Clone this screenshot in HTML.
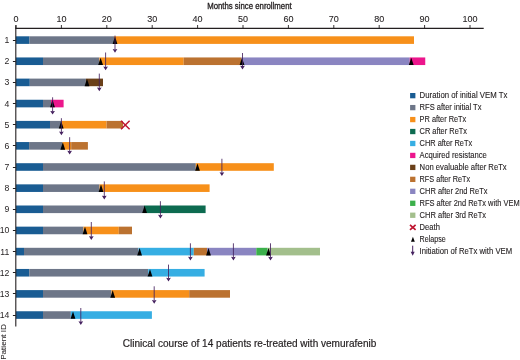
<!DOCTYPE html><html><head><meta charset="utf-8"><style>
html,body{margin:0;padding:0;background:#fff;width:520px;height:360px;overflow:hidden}
svg{display:block;will-change:transform}
text{font-family:"Liberation Sans",sans-serif;fill:#231f20;stroke:#231f20;stroke-width:0.1px}
</style></head><body>
<svg width="520" height="360" viewBox="0 0 520 360">
<text x="249.4" y="8.9" style="stroke-width:0.35px" font-size="9.6" text-anchor="middle" textLength="84.5" lengthAdjust="spacingAndGlyphs">Months since enrollment</text>
<line x1="15.3" y1="28.4" x2="483.7" y2="28.4" stroke="#231f20" stroke-width="1.1"/>
<line x1="16.00" y1="25" x2="16.00" y2="28.5" stroke="#231f20" stroke-width="0.9"/>
<text x="16.00" y="21.8" font-size="9" text-anchor="middle">0</text>
<line x1="61.40" y1="25" x2="61.40" y2="28.5" stroke="#231f20" stroke-width="0.9"/>
<text x="61.40" y="21.8" font-size="9" text-anchor="middle">10</text>
<line x1="106.80" y1="25" x2="106.80" y2="28.5" stroke="#231f20" stroke-width="0.9"/>
<text x="106.80" y="21.8" font-size="9" text-anchor="middle">20</text>
<line x1="152.20" y1="25" x2="152.20" y2="28.5" stroke="#231f20" stroke-width="0.9"/>
<text x="152.20" y="21.8" font-size="9" text-anchor="middle">30</text>
<line x1="197.60" y1="25" x2="197.60" y2="28.5" stroke="#231f20" stroke-width="0.9"/>
<text x="197.60" y="21.8" font-size="9" text-anchor="middle">40</text>
<line x1="243.00" y1="25" x2="243.00" y2="28.5" stroke="#231f20" stroke-width="0.9"/>
<text x="243.00" y="21.8" font-size="9" text-anchor="middle">50</text>
<line x1="288.40" y1="25" x2="288.40" y2="28.5" stroke="#231f20" stroke-width="0.9"/>
<text x="288.40" y="21.8" font-size="9" text-anchor="middle">60</text>
<line x1="333.80" y1="25" x2="333.80" y2="28.5" stroke="#231f20" stroke-width="0.9"/>
<text x="333.80" y="21.8" font-size="9" text-anchor="middle">70</text>
<line x1="379.20" y1="25" x2="379.20" y2="28.5" stroke="#231f20" stroke-width="0.9"/>
<text x="379.20" y="21.8" font-size="9" text-anchor="middle">80</text>
<line x1="424.60" y1="25" x2="424.60" y2="28.5" stroke="#231f20" stroke-width="0.9"/>
<text x="424.60" y="21.8" font-size="9" text-anchor="middle">90</text>
<line x1="470.00" y1="25" x2="470.00" y2="28.5" stroke="#231f20" stroke-width="0.9"/>
<text x="470.00" y="21.8" font-size="9" text-anchor="middle">100</text>
<line x1="12.9" y1="40.50" x2="15.8" y2="40.50" stroke="#231f20" stroke-width="1"/>
<text x="9.3" y="43.10" style="stroke-width:0" font-size="8.7" text-anchor="end">1</text>
<rect x="15.90" y="36.30" width="13.60" height="7.6" fill="#195c93"/>
<rect x="29.50" y="36.30" width="84.50" height="7.6" fill="#6d7688"/>
<rect x="114.00" y="36.30" width="300.00" height="7.6" fill="#f7901a"/>
<polygon points="112.60,43.90 117.40,43.90 115.00,36.50" fill="#000"/>
<line x1="115.00" y1="35.60" x2="115.00" y2="49.70" stroke="#45215f" stroke-width="0.85"/>
<polygon points="112.65,49.00 115.00,49.40 117.35,49.00 115.00,52.70" fill="#45215f"/>
<line x1="12.9" y1="61.50" x2="15.8" y2="61.50" stroke="#231f20" stroke-width="1"/>
<text x="9.3" y="64.25" style="stroke-width:0" font-size="8.7" text-anchor="end">2</text>
<rect x="15.90" y="57.45" width="27.10" height="7.6" fill="#195c93"/>
<rect x="43.00" y="57.45" width="56.40" height="7.6" fill="#6d7688"/>
<rect x="99.40" y="57.45" width="84.30" height="7.6" fill="#f7901a"/>
<rect x="183.70" y="57.45" width="57.80" height="7.6" fill="#bb7230"/>
<rect x="241.50" y="57.45" width="168.25" height="7.6" fill="#8a85c1"/>
<rect x="409.75" y="57.45" width="15.50" height="7.6" fill="#ec168c"/>
<polygon points="98.20,65.05 103.00,65.05 100.60,57.65" fill="#000"/>
<polygon points="239.60,65.05 244.40,65.05 242.00,57.65" fill="#000"/>
<polygon points="408.85,65.05 413.65,65.05 411.25,57.65" fill="#000"/>
<line x1="105.60" y1="52.50" x2="105.60" y2="67.25" stroke="#45215f" stroke-width="0.85"/>
<polygon points="103.25,66.55 105.60,66.95 107.95,66.55 105.60,70.25" fill="#45215f"/>
<line x1="242.50" y1="53.00" x2="242.50" y2="66.40" stroke="#45215f" stroke-width="0.85"/>
<polygon points="240.15,65.70 242.50,66.10 244.85,65.70 242.50,69.40" fill="#45215f"/>
<line x1="12.9" y1="82.50" x2="15.8" y2="82.50" stroke="#231f20" stroke-width="1"/>
<text x="9.3" y="85.40" style="stroke-width:0" font-size="8.7" text-anchor="end">3</text>
<rect x="15.90" y="78.60" width="13.90" height="7.6" fill="#195c93"/>
<rect x="29.80" y="78.60" width="56.10" height="7.6" fill="#6d7688"/>
<rect x="85.90" y="78.60" width="17.10" height="7.6" fill="#6a4019"/>
<polygon points="84.60,86.20 89.40,86.20 87.00,78.80" fill="#000"/>
<line x1="99.30" y1="73.60" x2="99.30" y2="88.30" stroke="#45215f" stroke-width="0.85"/>
<polygon points="96.95,87.60 99.30,88.00 101.65,87.60 99.30,91.30" fill="#45215f"/>
<line x1="12.9" y1="103.50" x2="15.8" y2="103.50" stroke="#231f20" stroke-width="1"/>
<text x="9.3" y="106.55" style="stroke-width:0" font-size="8.7" text-anchor="end">4</text>
<rect x="15.90" y="99.75" width="27.10" height="7.6" fill="#195c93"/>
<rect x="43.00" y="99.75" width="8.00" height="7.6" fill="#6d7688"/>
<rect x="51.00" y="99.75" width="12.60" height="7.6" fill="#ec168c"/>
<polygon points="50.10,107.35 54.90,107.35 52.50,99.95" fill="#000"/>
<line x1="52.60" y1="97.30" x2="52.60" y2="111.60" stroke="#45215f" stroke-width="0.85"/>
<polygon points="50.25,110.90 52.60,111.30 54.95,110.90 52.60,114.60" fill="#45215f"/>
<line x1="12.9" y1="124.50" x2="15.8" y2="124.50" stroke="#231f20" stroke-width="1"/>
<text x="9.3" y="127.70" style="stroke-width:0" font-size="8.7" text-anchor="end">5</text>
<rect x="15.90" y="120.90" width="34.10" height="7.6" fill="#195c93"/>
<rect x="50.00" y="120.90" width="11.50" height="7.6" fill="#6d7688"/>
<rect x="61.50" y="120.90" width="45.10" height="7.6" fill="#f7901a"/>
<rect x="106.60" y="120.90" width="16.40" height="7.6" fill="#bb7230"/>
<polygon points="58.80,128.50 63.60,128.50 61.20,121.10" fill="#000"/>
<line x1="61.40" y1="118.20" x2="61.40" y2="132.30" stroke="#45215f" stroke-width="0.85"/>
<polygon points="59.05,131.60 61.40,132.00 63.75,131.60 61.40,135.30" fill="#45215f"/>
<path d="M121.00,120.65L129.60,129.25M129.60,120.65L121.00,129.25" stroke="#bf1530" stroke-width="1.45"/>
<line x1="12.9" y1="145.50" x2="15.8" y2="145.50" stroke="#231f20" stroke-width="1"/>
<text x="9.3" y="148.85" style="stroke-width:0" font-size="8.7" text-anchor="end">6</text>
<rect x="15.90" y="142.05" width="13.20" height="7.6" fill="#195c93"/>
<rect x="29.10" y="142.05" width="33.40" height="7.6" fill="#6d7688"/>
<rect x="62.50" y="142.05" width="8.70" height="7.6" fill="#f7901a"/>
<rect x="71.20" y="142.05" width="16.70" height="7.6" fill="#bb7230"/>
<polygon points="60.40,149.65 65.20,149.65 62.80,142.25" fill="#000"/>
<line x1="69.65" y1="137.20" x2="69.65" y2="151.50" stroke="#45215f" stroke-width="0.85"/>
<polygon points="67.30,150.80 69.65,151.20 72.00,150.80 69.65,154.50" fill="#45215f"/>
<line x1="12.9" y1="167.50" x2="15.8" y2="167.50" stroke="#231f20" stroke-width="1"/>
<text x="9.3" y="170.00" style="stroke-width:0" font-size="8.7" text-anchor="end">7</text>
<rect x="15.90" y="163.20" width="27.10" height="7.6" fill="#195c93"/>
<rect x="43.00" y="163.20" width="152.80" height="7.6" fill="#6d7688"/>
<rect x="195.80" y="163.20" width="78.00" height="7.6" fill="#f7901a"/>
<polygon points="195.10,170.80 199.90,170.80 197.50,163.40" fill="#000"/>
<line x1="221.90" y1="158.75" x2="221.90" y2="173.00" stroke="#45215f" stroke-width="0.85"/>
<polygon points="219.55,172.30 221.90,172.70 224.25,172.30 221.90,176.00" fill="#45215f"/>
<line x1="12.9" y1="188.50" x2="15.8" y2="188.50" stroke="#231f20" stroke-width="1"/>
<text x="9.3" y="191.15" style="stroke-width:0" font-size="8.7" text-anchor="end">8</text>
<rect x="15.90" y="184.35" width="27.10" height="7.6" fill="#195c93"/>
<rect x="43.00" y="184.35" width="56.60" height="7.6" fill="#6d7688"/>
<rect x="99.60" y="184.35" width="110.00" height="7.6" fill="#f7901a"/>
<polygon points="98.60,191.95 103.40,191.95 101.00,184.55" fill="#000"/>
<line x1="104.30" y1="181.40" x2="104.30" y2="196.40" stroke="#45215f" stroke-width="0.85"/>
<polygon points="101.95,195.70 104.30,196.10 106.65,195.70 104.30,199.40" fill="#45215f"/>
<line x1="12.9" y1="209.50" x2="15.8" y2="209.50" stroke="#231f20" stroke-width="1"/>
<text x="9.3" y="212.30" style="stroke-width:0" font-size="8.7" text-anchor="end">9</text>
<rect x="15.90" y="205.50" width="27.10" height="7.6" fill="#195c93"/>
<rect x="43.00" y="205.50" width="101.00" height="7.6" fill="#6d7688"/>
<rect x="144.00" y="205.50" width="61.60" height="7.6" fill="#0d6b50"/>
<polygon points="142.20,213.10 147.00,213.10 144.60,205.70" fill="#000"/>
<line x1="160.40" y1="201.20" x2="160.40" y2="215.50" stroke="#45215f" stroke-width="0.85"/>
<polygon points="158.05,214.80 160.40,215.20 162.75,214.80 160.40,218.50" fill="#45215f"/>
<line x1="12.9" y1="230.50" x2="15.8" y2="230.50" stroke="#231f20" stroke-width="1"/>
<text x="9.3" y="233.45" style="stroke-width:0" font-size="8.7" text-anchor="end">10</text>
<rect x="15.90" y="226.65" width="27.10" height="7.6" fill="#195c93"/>
<rect x="43.00" y="226.65" width="40.50" height="7.6" fill="#6d7688"/>
<rect x="83.50" y="226.65" width="35.30" height="7.6" fill="#f7901a"/>
<rect x="118.80" y="226.65" width="13.20" height="7.6" fill="#bb7230"/>
<polygon points="82.60,234.25 87.40,234.25 85.00,226.85" fill="#000"/>
<line x1="91.30" y1="222.00" x2="91.30" y2="236.90" stroke="#45215f" stroke-width="0.85"/>
<polygon points="88.95,236.20 91.30,236.60 93.65,236.20 91.30,239.90" fill="#45215f"/>
<line x1="12.9" y1="251.50" x2="15.8" y2="251.50" stroke="#231f20" stroke-width="1"/>
<text x="9.3" y="254.60" style="stroke-width:0" font-size="8.7" text-anchor="end">11</text>
<rect x="15.90" y="247.80" width="8.10" height="7.6" fill="#195c93"/>
<rect x="24.00" y="247.80" width="114.50" height="7.6" fill="#6d7688"/>
<rect x="138.50" y="247.80" width="55.30" height="7.6" fill="#36aee3"/>
<rect x="193.80" y="247.80" width="13.20" height="7.6" fill="#bb7230"/>
<rect x="207.00" y="247.80" width="49.30" height="7.6" fill="#8a85c1"/>
<rect x="256.30" y="247.80" width="11.40" height="7.6" fill="#3bb04b"/>
<rect x="267.70" y="247.80" width="52.30" height="7.6" fill="#a3bf8c"/>
<polygon points="137.20,255.40 142.00,255.40 139.60,248.00" fill="#000"/>
<polygon points="206.10,255.40 210.90,255.40 208.50,248.00" fill="#000"/>
<polygon points="266.10,255.40 270.90,255.40 268.50,248.00" fill="#000"/>
<line x1="190.40" y1="243.30" x2="190.40" y2="257.50" stroke="#45215f" stroke-width="0.85"/>
<polygon points="188.05,256.80 190.40,257.20 192.75,256.80 190.40,260.50" fill="#45215f"/>
<line x1="233.40" y1="243.30" x2="233.40" y2="257.50" stroke="#45215f" stroke-width="0.85"/>
<polygon points="231.05,256.80 233.40,257.20 235.75,256.80 233.40,260.50" fill="#45215f"/>
<line x1="270.50" y1="243.30" x2="270.50" y2="257.50" stroke="#45215f" stroke-width="0.85"/>
<polygon points="268.15,256.80 270.50,257.20 272.85,256.80 270.50,260.50" fill="#45215f"/>
<line x1="12.9" y1="272.50" x2="15.8" y2="272.50" stroke="#231f20" stroke-width="1"/>
<text x="9.3" y="275.75" style="stroke-width:0" font-size="8.7" text-anchor="end">12</text>
<rect x="15.90" y="268.95" width="13.40" height="7.6" fill="#195c93"/>
<rect x="29.30" y="268.95" width="118.90" height="7.6" fill="#6d7688"/>
<rect x="148.20" y="268.95" width="56.40" height="7.6" fill="#36aee3"/>
<polygon points="147.60,276.55 152.40,276.55 150.00,269.15" fill="#000"/>
<line x1="168.50" y1="264.60" x2="168.50" y2="278.50" stroke="#45215f" stroke-width="0.85"/>
<polygon points="166.15,277.80 168.50,278.20 170.85,277.80 168.50,281.50" fill="#45215f"/>
<line x1="12.9" y1="293.50" x2="15.8" y2="293.50" stroke="#231f20" stroke-width="1"/>
<text x="9.3" y="296.90" style="stroke-width:0" font-size="8.7" text-anchor="end">13</text>
<rect x="15.90" y="290.10" width="27.10" height="7.6" fill="#195c93"/>
<rect x="43.00" y="290.10" width="68.50" height="7.6" fill="#6d7688"/>
<rect x="111.50" y="290.10" width="77.70" height="7.6" fill="#f7901a"/>
<rect x="189.20" y="290.10" width="40.80" height="7.6" fill="#bb7230"/>
<polygon points="110.30,297.70 115.10,297.70 112.70,290.30" fill="#000"/>
<line x1="154.20" y1="286.30" x2="154.20" y2="300.70" stroke="#45215f" stroke-width="0.85"/>
<polygon points="151.85,300.00 154.20,300.40 156.55,300.00 154.20,303.70" fill="#45215f"/>
<line x1="12.9" y1="315.50" x2="15.8" y2="315.50" stroke="#231f20" stroke-width="1"/>
<text x="9.3" y="318.05" style="stroke-width:0" font-size="8.7" text-anchor="end">14</text>
<rect x="15.90" y="311.25" width="27.10" height="7.6" fill="#195c93"/>
<rect x="43.00" y="311.25" width="27.80" height="7.6" fill="#6d7688"/>
<rect x="70.80" y="311.25" width="81.10" height="7.6" fill="#36aee3"/>
<polygon points="70.60,318.85 75.40,318.85 73.00,311.45" fill="#000"/>
<line x1="80.80" y1="308.00" x2="80.80" y2="322.00" stroke="#45215f" stroke-width="0.85"/>
<polygon points="78.45,321.30 80.80,321.70 83.15,321.30 80.80,325.00" fill="#45215f"/>
<line x1="15.8" y1="25.2" x2="15.8" y2="326.6" stroke="#231f20" stroke-width="1.1"/>
<text transform="translate(6.4,359.8) rotate(-90)" style="stroke-width:0.05px" font-size="7.7" textLength="35.6" lengthAdjust="spacingAndGlyphs">Patient ID</text>
<rect x="410.1" y="93.00" width="5.3" height="5.3" fill="#195c93"/>
<text x="419.6" y="98.40" style="stroke-width:0.12px" font-size="8.6" textLength="87.8" lengthAdjust="spacingAndGlyphs">Duration of initial VEM Tx</text>
<rect x="410.1" y="104.96" width="5.3" height="5.3" fill="#6d7688"/>
<text x="419.6" y="110.36" style="stroke-width:0.12px" font-size="8.6" textLength="61.9" lengthAdjust="spacingAndGlyphs">RFS after initial Tx</text>
<rect x="410.1" y="116.92" width="5.3" height="5.3" fill="#f7901a"/>
<text x="419.6" y="122.32" style="stroke-width:0.12px" font-size="8.6" textLength="46.7" lengthAdjust="spacingAndGlyphs">PR after ReTx</text>
<rect x="410.1" y="128.88" width="5.3" height="5.3" fill="#0d6b50"/>
<text x="419.6" y="134.28" style="stroke-width:0.12px" font-size="8.6" textLength="47.4" lengthAdjust="spacingAndGlyphs">CR after ReTx</text>
<rect x="410.1" y="140.84" width="5.3" height="5.3" fill="#36aee3"/>
<text x="419.6" y="146.24" style="stroke-width:0.12px" font-size="8.6" textLength="52.6" lengthAdjust="spacingAndGlyphs">CHR after ReTx</text>
<rect x="410.1" y="152.80" width="5.3" height="5.3" fill="#ec168c"/>
<text x="419.6" y="158.20" style="stroke-width:0.12px" font-size="8.6" textLength="67.3" lengthAdjust="spacingAndGlyphs">Acquired resistance</text>
<rect x="410.1" y="164.76" width="5.3" height="5.3" fill="#6a4019"/>
<text x="419.6" y="170.16" style="stroke-width:0.12px" font-size="8.6" textLength="87.1" lengthAdjust="spacingAndGlyphs">Non evaluable after ReTx</text>
<rect x="410.1" y="176.72" width="5.3" height="5.3" fill="#bb7230"/>
<text x="419.6" y="182.12" style="stroke-width:0.12px" font-size="8.6" textLength="50.5" lengthAdjust="spacingAndGlyphs">RFS after ReTx</text>
<rect x="410.1" y="188.68" width="5.3" height="5.3" fill="#8a85c1"/>
<text x="419.6" y="194.08" style="stroke-width:0.12px" font-size="8.6" textLength="67.9" lengthAdjust="spacingAndGlyphs">CHR after 2nd ReTx</text>
<rect x="410.1" y="200.64" width="5.3" height="5.3" fill="#3bb04b"/>
<text x="419.6" y="206.04" style="stroke-width:0.12px" font-size="8.6" textLength="100.1" lengthAdjust="spacingAndGlyphs">RFS after 2nd ReTx with VEM</text>
<rect x="410.1" y="212.60" width="5.3" height="5.3" fill="#a3bf8c"/>
<text x="419.6" y="218.00" style="stroke-width:0.12px" font-size="8.6" textLength="66.5" lengthAdjust="spacingAndGlyphs">CHR after 3rd ReTx</text>
<path d="M410,224.76L415.6,229.76M415.6,224.76L410,229.76" stroke="#bf1530" stroke-width="1.7"/>
<text x="419.6" y="229.96" style="stroke-width:0.12px" font-size="8.6" textLength="20.3" lengthAdjust="spacingAndGlyphs">Death</text>
<polygon points="411,241.72 414.8,241.72 412.9,236.72" fill="#000"/>
<text x="419.6" y="241.92" style="stroke-width:0.12px" font-size="8.6" textLength="26.2" lengthAdjust="spacingAndGlyphs">Relapse</text>
<line x1="412.7" y1="245.68" x2="412.7" y2="253.08" stroke="#45215f" stroke-width="1"/>
<polygon points="410.7,251.68 414.7,251.68 412.7,255.68" fill="#45215f"/>
<text x="419.6" y="253.88" style="stroke-width:0.12px" font-size="8.6" textLength="92.5" lengthAdjust="spacingAndGlyphs">Initiation of ReTx with VEM</text>
<text x="122.8" y="346.7" style="stroke-width:0.2px" font-size="10.4" textLength="253.5" lengthAdjust="spacingAndGlyphs">Clinical course of 14 patients re-treated with vemurafenib</text>
</svg></body></html>
